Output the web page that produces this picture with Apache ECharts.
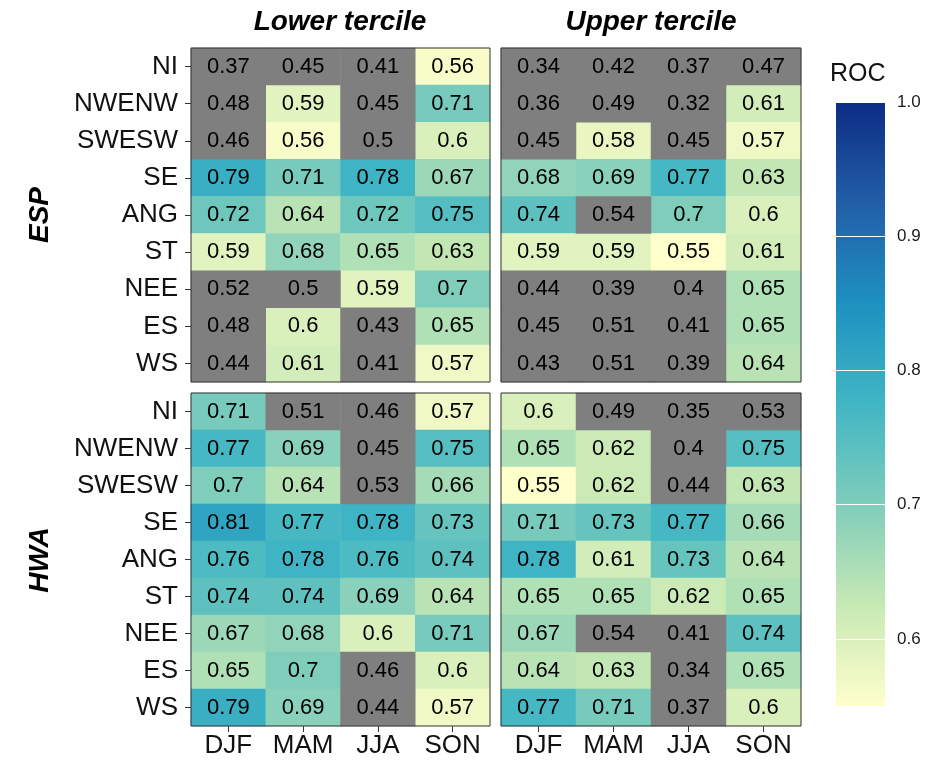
<!DOCTYPE html>
<html>
<head>
<meta charset="utf-8">
<title>ROC</title>
<script src="https://cdn.jsdelivr.net/npm/echarts@6/dist/echarts.min.js"></script>
<style>
  html, body { margin: 0; padding: 0; background: #fff; }
  #chart { width: 925px; height: 761px; }
</style>
</head>
<body>
<div id="chart"></div>
<script>
// categories
var seasons = ['DJF', 'MAM', 'JJA', 'SON'];
var regions = ['NI', 'NWENW', 'SWESW', 'SE', 'ANG', 'ST', 'NEE', 'ES', 'WS'];

// ROC values, one row per region (NI..WS), columns DJF MAM JJA SON
var espLower = [
  [0.37, 0.45, 0.41, 0.56],
  [0.48, 0.59, 0.45, 0.71],
  [0.46, 0.56, 0.5, 0.6],
  [0.79, 0.71, 0.78, 0.67],
  [0.72, 0.64, 0.72, 0.75],
  [0.59, 0.68, 0.65, 0.63],
  [0.52, 0.5, 0.59, 0.7],
  [0.48, 0.6, 0.43, 0.65],
  [0.44, 0.61, 0.41, 0.57]
];
var espUpper = [
  [0.34, 0.42, 0.37, 0.47],
  [0.36, 0.49, 0.32, 0.61],
  [0.45, 0.58, 0.45, 0.57],
  [0.68, 0.69, 0.77, 0.63],
  [0.74, 0.54, 0.7, 0.6],
  [0.59, 0.59, 0.55, 0.61],
  [0.44, 0.39, 0.4, 0.65],
  [0.45, 0.51, 0.41, 0.65],
  [0.43, 0.51, 0.39, 0.64]
];
var hwaLower = [
  [0.71, 0.51, 0.46, 0.57],
  [0.77, 0.69, 0.45, 0.75],
  [0.7, 0.64, 0.53, 0.66],
  [0.81, 0.77, 0.78, 0.73],
  [0.76, 0.78, 0.76, 0.74],
  [0.74, 0.74, 0.69, 0.64],
  [0.67, 0.68, 0.6, 0.71],
  [0.65, 0.7, 0.46, 0.6],
  [0.79, 0.69, 0.44, 0.57]
];
var hwaUpper = [
  [0.6, 0.49, 0.35, 0.53],
  [0.65, 0.62, 0.4, 0.75],
  [0.55, 0.62, 0.44, 0.63],
  [0.71, 0.73, 0.77, 0.66],
  [0.78, 0.61, 0.73, 0.64],
  [0.65, 0.65, 0.62, 0.65],
  [0.67, 0.54, 0.41, 0.74],
  [0.64, 0.63, 0.34, 0.65],
  [0.77, 0.71, 0.37, 0.6]
];

// colour scale
var rocLimits = [0.55, 1.0];
var rocTicks = [0.6, 0.7, 0.8, 0.9, 1.0];
var ylgnbu = ['#ffffcc', '#c7e9b4', '#7fcdbb', '#41b6c4', '#1d91c0', '#225ea8', '#0c2c84'];
var greyCol = '#7f7f7f';

var font = 'Liberation Sans, Arial, Helvetica, sans-serif';

var panels = [
  { values: espLower, left: 191, top: 48, width: 299, height: 334, xlab: false, ylab: true },
  { values: espUpper, left: 501, top: 48, width: 300, height: 334, xlab: false, ylab: false },
  { values: hwaLower, left: 191, top: 393, width: 299, height: 333, xlab: true, ylab: true },
  { values: hwaUpper, left: 501, top: 393, width: 300, height: 333, xlab: true, ylab: false }
];

var grids = [], xAxes = [], yAxes = [], series = [], colouredIdx = [];

var cellLabel = {
  show: true,
  formatter: function (p) { return String(p.value[2]); },
  color: '#000',
  fontSize: 22,
  fontFamily: font
};

panels.forEach(function (p, i) {
  grids.push({
    left: p.left, top: p.top, width: p.width, height: p.height,
    show: true, z: 10, backgroundColor: 'transparent',
    borderColor: '#333', borderWidth: 1
  });
  xAxes.push({
    type: 'category', gridIndex: i, data: seasons,
    axisLine: { show: false },
    axisTick: { show: p.xlab, alignWithLabel: true, interval: 0, length: 6, lineStyle: { color: '#333' } },
    axisLabel: { show: p.xlab, interval: 0, fontSize: 26, color: '#111', fontFamily: font, margin: 7 },
    splitLine: { show: false }
  });
  yAxes.push({
    type: 'category', gridIndex: i, data: regions, inverse: true,
    axisLine: { show: false },
    axisTick: { show: p.ylab, alignWithLabel: true, interval: 0, length: 6, lineStyle: { color: '#333' } },
    axisLabel: { show: p.ylab, interval: 0, fontSize: 26, color: '#111', fontFamily: font, margin: 13 },
    splitLine: { show: false }
  });

  // cells below the colour scale limit are drawn grey
  var good = [], bad = [];
  p.values.forEach(function (row, r) {
    row.forEach(function (v, c) {
      if (v >= rocLimits[0]) good.push([c, r, v]);
      else bad.push([c, r, v]);
    });
  });
  colouredIdx.push(series.length);
  series.push({
    type: 'heatmap', xAxisIndex: i, yAxisIndex: i, data: good,
    label: cellLabel, emphasis: { disabled: true }
  });
  series.push({
    type: 'heatmap', xAxisIndex: i, yAxisIndex: i, data: bad,
    itemStyle: { color: greyCol },
    label: cellLabel, emphasis: { disabled: true }
  });
});

// colour bar in its own grid
var cbIndex = grids.length;
grids.push({ left: 836, top: 102, width: 49, height: 604 });
xAxes.push({ type: 'category', gridIndex: cbIndex, data: ['ROC'], show: false });
yAxes.push({
  type: 'value', gridIndex: cbIndex, position: 'right',
  min: rocLimits[0], max: rocLimits[1], interval: 0.05,
  axisLine: { show: false }, axisTick: { show: false }, splitLine: { show: false },
  axisLabel: {
    fontSize: 17, color: '#1a1a1a', fontFamily: font, margin: 12,
    formatter: function (v) {
      for (var k = 0; k < rocTicks.length; k++) {
        if (Math.abs(v - rocTicks[k]) < 1e-6) return rocTicks[k].toFixed(1);
      }
      return '';
    }
  }
});
var stops = ylgnbu.map(function (c, k) {
  return { offset: 1 - k / (ylgnbu.length - 1), color: c };
});
series.push({
  type: 'bar', xAxisIndex: cbIndex, yAxisIndex: cbIndex, stack: 'cb',
  data: [rocLimits[0]], barWidth: '100%', itemStyle: { color: 'transparent' }, silent: true
});
series.push({
  type: 'bar', xAxisIndex: cbIndex, yAxisIndex: cbIndex, stack: 'cb',
  data: [rocLimits[1] - rocLimits[0]], barWidth: '100%', silent: true,
  itemStyle: { color: new echarts.graphic.LinearGradient(0, 0, 0, 1, stops) },
  markLine: {
    silent: true, symbol: 'none', label: { show: false },
    lineStyle: { color: '#fff', width: 1, type: 'solid' },
    data: rocTicks.map(function (t) { return { yAxis: t }; })
  }
});

var chart = echarts.init(document.getElementById('chart'));
chart.setOption({
  animation: false,
  backgroundColor: '#fff',
  grid: grids,
  xAxis: xAxes,
  yAxis: yAxes,
  visualMap: {
    show: false, type: 'continuous',
    min: rocLimits[0], max: rocLimits[1],
    seriesIndex: colouredIdx, dimension: 2,
    inRange: { color: ylgnbu }
  },
  graphic: [
    { type: 'text', x: 340, y: 22, style: { text: 'Lower tercile', fill: '#000', font: 'italic bold 28px ' + font, textAlign: 'center', textVerticalAlign: 'middle' } },
    { type: 'text', x: 651, y: 22, style: { text: 'Upper tercile', fill: '#000', font: 'italic bold 28px ' + font, textAlign: 'center', textVerticalAlign: 'middle' } },
    { type: 'text', x: 40, y: 215, rotation: Math.PI / 2, style: { text: 'ESP', fill: '#000', font: 'italic bold 28px ' + font, textAlign: 'center', textVerticalAlign: 'middle' } },
    { type: 'text', x: 40, y: 560, rotation: Math.PI / 2, style: { text: 'HWA', fill: '#000', font: 'italic bold 28px ' + font, textAlign: 'center', textVerticalAlign: 'middle' } },
    { type: 'text', x: 830, y: 74, style: { text: 'ROC', fill: '#111', font: '25px ' + font, textAlign: 'left', textVerticalAlign: 'middle' } }
  ],
  series: series
});
</script>
</body>
</html>
